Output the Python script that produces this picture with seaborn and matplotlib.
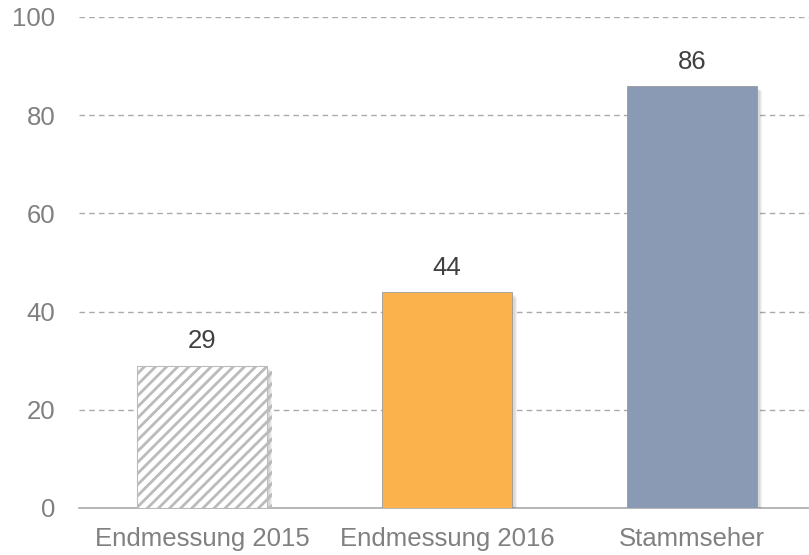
import matplotlib
matplotlib.use("Agg")
import matplotlib.pyplot as plt
import matplotlib.patheffects as pe
import pandas as pd
import seaborn as sns

categories = ["Endmessung 2015", "Endmessung 2016", "Stammseher"]
values = [29, 44, 86]
colors = ["#ffffff", "#fbb24c", "#8a9ab4"]

sns.set_style("white")
plt.rcParams["font.family"] = ["Liberation Sans", "DejaVu Sans"]
plt.rcParams["hatch.color"] = "#aaaaaa"
plt.rcParams["hatch.linewidth"] = 2.0

df = pd.DataFrame({"cat": categories, "val": values})

fig = plt.figure(figsize=(8.09, 5.55), dpi=100)
ax = fig.add_axes([0.0977, 0.0847, 0.9023, 0.8847])

sns.barplot(data=df, x="cat", y="val", hue="cat", palette=colors, width=0.53,
            legend=False, ax=ax, saturation=1, zorder=3)

# soft-ish shadow built from a few faint layers
shadow = [pe.SimplePatchShadow(offset=(o, -o), shadow_rgbFace="#000000", alpha=0.05)
          for o in (4, 3, 2, 1)] + [pe.Normal()]
for i, p in enumerate(ax.patches):
    p.set_path_effects(shadow)
    if i == 0:
        p.set_hatch("///")
        p.set_edgecolor("#bbbbbb")
        p.set_linewidth(0.8)
    else:
        p.set_edgecolor("#999999")
        p.set_linewidth(0.6)

for i, v in enumerate(values):
    ax.text(i, v + 3.5, str(v), ha="center", va="baseline", fontsize=18.5, color="#404040")

ax.set_ylim(0, 100)
ax.set_xlim(-0.502, 2.478)
ax.set_yticks([0, 20, 40, 60, 80, 100])
ax.yaxis.grid(True, linestyle=(0, (4, 3)), color="#aaaaaa", linewidth=1, zorder=0)
ax.set_axisbelow(True)
ax.set_xlabel("")
ax.set_ylabel("")
for s in ["top", "right", "left"]:
    ax.spines[s].set_visible(False)
ax.spines["bottom"].set_color("#aaaaaa")
ax.spines["bottom"].set_linewidth(1.2)
ax.tick_params(axis="both", length=0, labelsize=18.5, labelcolor="#808080")
ax.tick_params(axis="y", pad=17)
ax.tick_params(axis="x", pad=13.5)

fig.savefig("out.png", dpi=100)
